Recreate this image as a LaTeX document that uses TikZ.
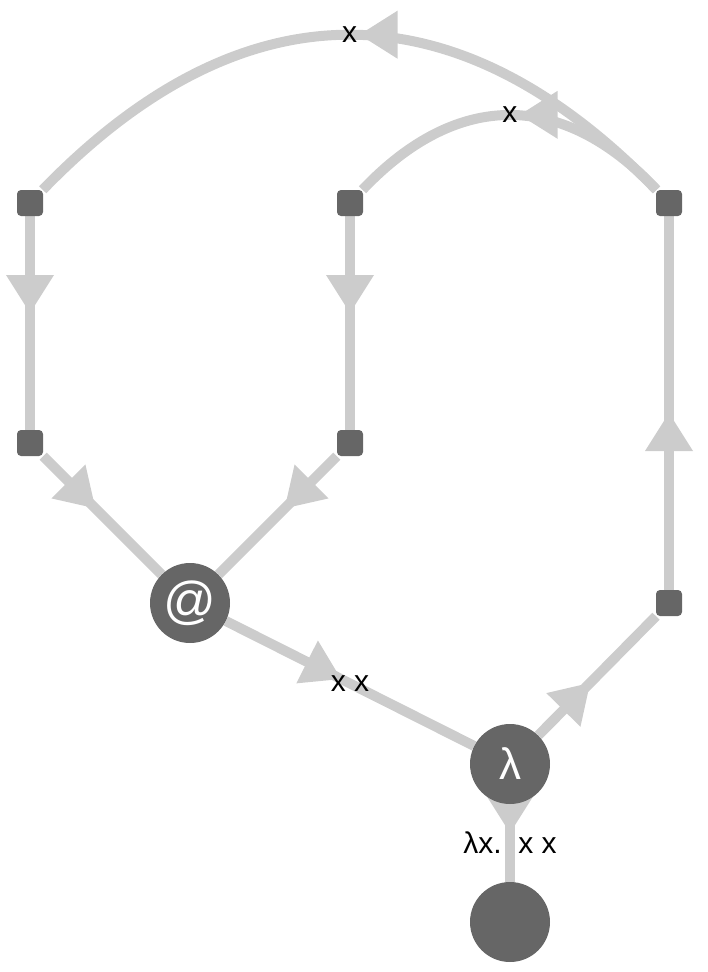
\documentclass[tikz,border=0pt]{standalone}
\usepackage{fontspec}
\setmainfont{Liberation Sans}
\usetikzlibrary{decorations.markings,backgrounds}
\definecolor{edgecol}{HTML}{CCCCCC}
\definecolor{nodecol}{HTML}{666666}
\tikzset{
  sq/.style={rectangle,rounded corners=4pt,fill=nodecol,minimum size=26pt,inner sep=0pt},
  bigc/.style={circle,fill=nodecol,minimum size=80pt,inner sep=0pt,text=white,font=\fontsize{44}{48}\selectfont},
  edge/.style={draw=edgecol,line width=10pt},
  midarrow/.style={postaction={decorate},decoration={markings,
    mark=at position 0.5 with {\fill[edgecol] (-10pt,0pt) -- (-48pt,24pt) -- (-48pt,-24pt) -- cycle;}}},
  elabel/.style={font=\fontsize{30}{34}\selectfont,text=black,inner sep=0pt}
}
\begin{document}
\begin{tikzpicture}[x=1pt,y=-1pt]
\useasboundingbox (0,0) rectangle (708,972);
\node[sq] (A) at (30,203) {};
\node[sq] (B) at (30,443) {};
\node[sq] (C) at (350,203) {};
\node[sq] (D) at (350,443) {};
\node[sq] (E) at (669,203) {};
\node[sq] (F) at (669,603) {};
\node[bigc,font=\fontsize{52}{56}\selectfont] (app) at (190,603) {@};
\node[bigc] (lam) at (510,764) {λ};
\node[bigc] (bot) at (510,922) {};
\begin{scope}[on background layer]
\draw[edge,midarrow] (E) .. controls (456,-17) and (243,-17) .. (A) node[elabel,pos=0.5] {x};
\draw[edge,midarrow] (E) .. controls (563,90) and (457,90) .. (C) node[elabel,pos=0.5] {x};
\draw[edge,midarrow] (A) -- (B);
\draw[edge,midarrow] (C) -- (D);
\draw[edge,midarrow] (B) -- (app);
\draw[edge,midarrow] (D) -- (app);
\draw[edge,midarrow] (app) -- (lam) node[elabel,pos=0.5] {x x};
\draw[edge,midarrow] (lam) -- (F);
\draw[edge,midarrow] (F) -- (E);
\draw[edge,midarrow] (lam) -- (bot) node[elabel,pos=0.5] {λx.\ \ x x};
\end{scope}
\end{tikzpicture}
\end{document}
